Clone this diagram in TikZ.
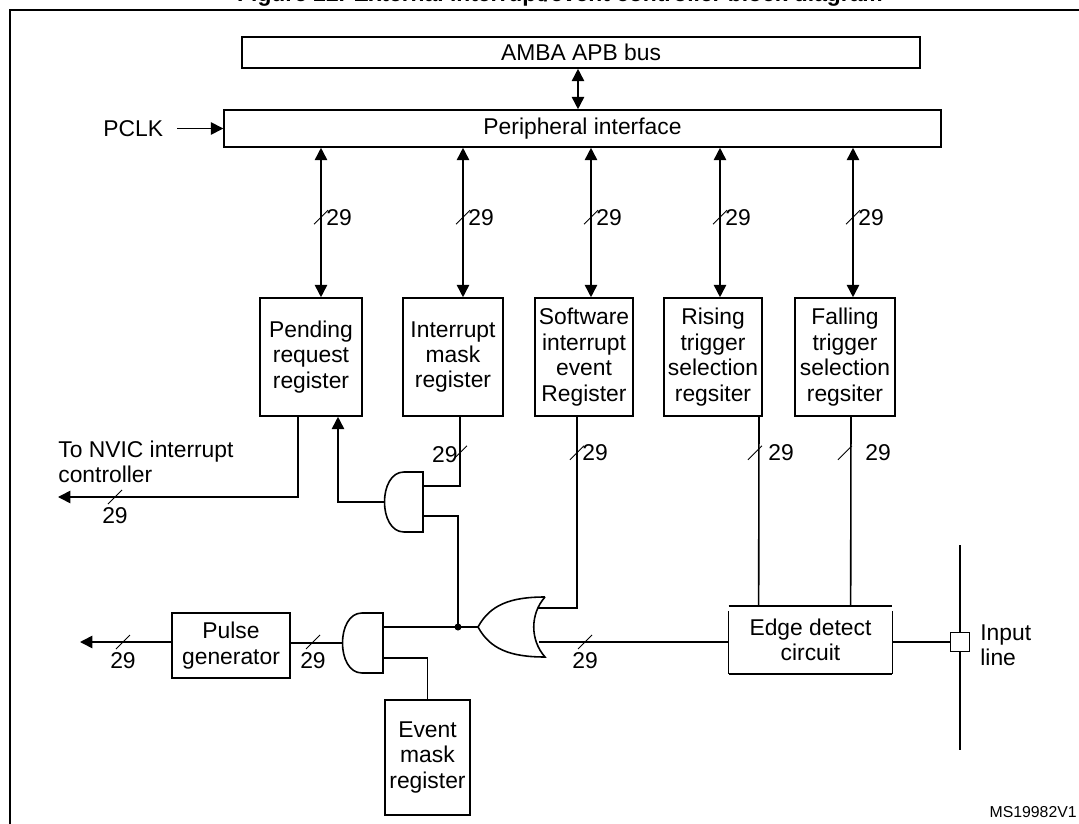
\documentclass[tikz,border=0pt]{standalone}
\usepackage{fontspec}
\setmainfont{Liberation Sans}
\usetikzlibrary{calc, positioning, arrows.meta}

\tikzset{
  reg/.style={draw, line width=0.9pt, align=center, inner sep=0pt},
  wire/.style={line width=0.9pt},
  sig/.style={wire, -{Triangle[length=7pt, width=7pt]}},
  bi/.style={wire, {Triangle[length=7pt, width=7pt]}-{Triangle[length=7pt, width=7pt]}},
  lbl/.style={font=\fontsize{13}{14}\selectfont, inner sep=0pt},
  bus/.pic={\draw[line width=0.5pt] (-7,7) -- (7,-7);}
}

\begin{document}
\begin{tikzpicture}[x=0.02cm, y=-0.02cm, font=\fontsize{13}{14.5}\selectfont]
    \useasboundingbox (0,0) rectangle (1079,824);

    % Title (cut off at the top) and frame
    \node[anchor=base, font=\bfseries\fontsize{13}{15}\selectfont] (title) at (560,2) {Figure 22. External interrupt/event controller block diagram};
    \draw[line width=1pt] (10,824) -- (10,10) -- (1079,10);

    % Bus and interface
    \node[reg, minimum width=13.56cm, minimum height=0.62cm] (amba) at (581,52.5) {AMBA APB bus};
    \node[reg, minimum width=14.34cm, minimum height=0.74cm] (perif) at (582.5,128.5) {Peripheral interface};
    \node[lbl, anchor=west] (pclk) at (103,128.5) {PCLK};
    \draw[sig] (pclk.east) ++(14,0) coordinate (pclkin) -- (perif.west);
    \draw[bi] (amba.south -| 578,0) -- (perif.north -| 578,0);

    % Registers
    \node[reg, minimum width=2.04cm, minimum height=2.36cm] (pend) at (311,357) {Pending\\request\\register};
    \node[reg, minimum width=2.0cm, minimum height=2.36cm] (imask) at (453,357) {Interrupt\\mask\\register};
    \node[reg, minimum width=1.96cm, minimum height=2.36cm] (swi) at (584,357) {Software\\interrupt\\event\\Register};
    \node[reg, minimum width=1.96cm, minimum height=2.36cm] (rise) at (713,357) {Rising\\trigger\\selection\\regsiter};
    \node[reg, minimum width=2.0cm, minimum height=2.36cm] (fall) at (845,357) {Falling\\trigger\\selection\\regsiter};

    \foreach \r/\dx in {pend/10, imask/10, swi/7, rise/7, fall/8} {
      \coordinate (\r top) at ($(\r.north)+(\dx,0)$);
      \draw[bi] (\r top) -- (\r top |- perif.south);
      \path (\r top) ++(0,-80) pic {bus} node[lbl, anchor=west] at +(5,0) {29};
    }

    % Gates
    \coordinate (gA) at (384,502);
    \draw[wire] (404,472) -- (423,472) -- (423,532) -- (404,532)
      .. controls (378,532) and (378,472) .. (404,472);
    \coordinate (gB) at (342,643);
    \draw[wire] (362,613) -- (383,613) -- (383,673) -- (362,673)
      .. controls (336,673) and (336,613) .. (362,613);
    \coordinate (gOr) at (478,627);
    \draw[wire] (545,597) .. controls (510,597) and (490,605) .. (gOr)
      .. controls (490,649) and (510,657) .. (545,657)
      .. controls (530,640) and (530,614) .. (545,597);
    \coordinate (jn) at (458,627);
    \fill (jn) circle (3.5);

    % Edge detect and input line
    \node[minimum width=3.26cm, minimum height=1.34cm, align=center] (edge) at (810.5,640) {Edge detect\\circuit};
    \draw[wire] (edge.north west) -- (edge.north east);
    \draw[wire] (edge.south west) -- (edge.south east);
    \draw[wire] ($(edge.north west)+(0,5)$) -- (edge.south west);
    \draw[wire] ($(edge.north east)+(0,5)$) -- (edge.south east);
    \node[draw, line width=0.9pt, fill=white, minimum size=0.38cm, inner sep=0pt] (pin) at (960,642) {};
    \draw[line width=1.6pt] (pin.north) -- +(0,-87);
    \draw[line width=1.6pt] (pin.south) -- +(0,98);
    \node[lbl, anchor=west, align=left] (inl) at (980,645) {Input\\line};
    \draw[wire] (pin.west) -- (edge.east |- pin.west);

    % Registers to logic
    \draw[wire] ($(rise.south)+(46,0)$) -- ($(edge.north west)+(30,0)$);
    \draw[wire] ($(fall.south)+(6,0)$) -- ($(edge.north west)+(122,0)$);
    \path ($(rise.south)+(42,36)$) pic {bus} node[lbl, anchor=west] at +(13,0) {29};
    \path ($(fall.south)+(0,36)$) pic {bus} node[lbl, anchor=west] at +(20,0) {29};
    \draw[wire] ($(swi.south)+(-7,0)$) |- (538,608);
    \path ($(swi.south)+(-7,36)$) pic {bus} node[lbl, anchor=west] at +(5,0) {29};
    \draw[wire] ($(imask.south)+(7,0)$) |- (423,486);
    \path ($(imask.south)+(7,36)$) pic {bus} node[lbl, anchor=east] at +(-2,2) {29};
    \draw[wire] (423,516) -| (jn);
    \draw[sig] (gA) -| ($(pend.south)+(27,0)$);
    \draw[wire] (edge.west |- 0,642) -- (539,642);
    \path (585,642) pic {bus} node[lbl] at +(0,19) {29};
    \draw[wire] (gOr) -- (383,627);

    % Outputs
    \node[lbl, anchor=west, align=left] (nvic) at (58,462) {To NVIC interrupt\\controller};
    \coordinate (nvicout) at (58,497);
    \draw[sig] ($(pend.south)+(-13,0)$) |- (nvicout);
    \path (115,497) pic {bus} node[lbl] at +(0,19) {29};

    \node[reg, minimum width=2.36cm, minimum height=1.3cm] (pulse) at (231,645.5) {Pulse\\generator};
    \draw[wire] (gB) -- (pulse.east |- gB);
    \path (313,642) pic {bus} node[lbl] at +(0,19) {29};
    \coordinate (evout) at (80,642);
    \draw[sig] (pulse.west |- evout) -- (evout);
    \path (123,642) pic {bus} node[lbl] at +(0,19) {29};

    \node[reg, minimum width=1.7cm, minimum height=2.3cm] (emask) at (427.5,757.5) {Event\\mask\\register};
    \draw[wire] (383,658) -| (emask.north);

    \node[lbl, anchor=east, font=\fontsize{9}{10}\selectfont] (ref) at (1077,812) {MS19982V1};
\end{tikzpicture}
\end{document}
